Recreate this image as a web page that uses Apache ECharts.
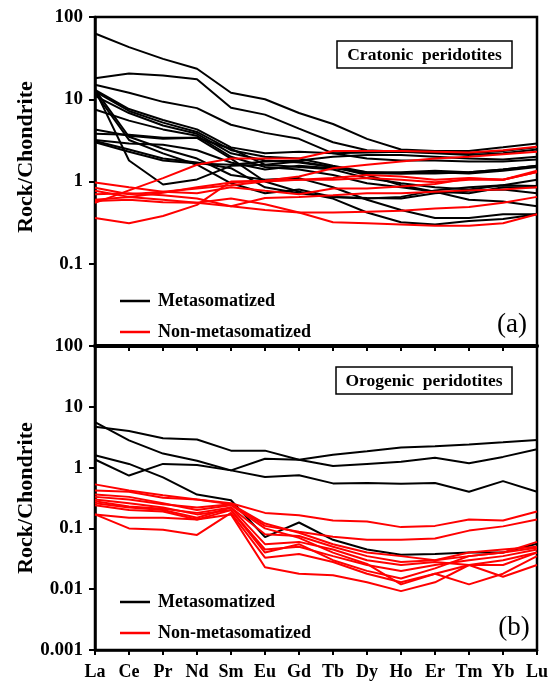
<!DOCTYPE html>
<html><head><meta charset="utf-8">
<script src="https://cdn.jsdelivr.net/npm/echarts@6/dist/echarts.min.js"></script>
<style>html,body{margin:0;padding:0;background:#fff}#c{width:553px;height:684px}</style>
</head><body><div id="c"></div>
<script>
// ---------- DATA ----------
const elements = ['La','Ce','Pr','Nd','Sm','Eu','Gd','Tb','Dy','Ho','Er','Tm','Yb','Lu'];

const yTickValuesTop = [0.1, 1, 10, 100];
const yTickLabelsTop = ['0.1', '1', '10', '100'];
const yTickValuesBottom = [0.001, 0.01, 0.1, 1, 10, 100];
const yTickLabelsBottom = ['0.001', '0.01', '0.1', '1', '10', '100'];

// (a) Cratonic peridotites - metasomatized (black)
const cratonicMeta1  = [63, 43, 31, 23.5, 12, 10, 6.8, 5.0, 3.3, 2.45, 2.35, 2.35, 2.6, 2.9];
const cratonicMeta2  = [18, 20.5, 19.5, 17.5, 7.9, 6.5, 4.4, 3.0, 2.4, 2.3, 2.25, 2.2, 2.35, 2.6];
const cratonicMeta3  = [15, 12, 9.3, 7.8, 4.9, 3.9, 3.3, 2.2, 1.9, 1.8, 1.8, 1.75, 1.75, 1.85];
const cratonicMeta4  = [13, 7.6, 5.6, 4.3, 2.6, 2.2, 2.3, 2.2, 2.25, 2.3, 2.2, 2.1, 2.2, 2.45];
const cratonicMeta5  = [12.5, 7.2, 5.2, 4.0, 2.4, 2.0, 1.9, 1.55, 1.3, 1.3, 1.35, 1.3, 1.4, 1.55];
const cratonicMeta6  = [11, 6.8, 4.8, 3.8, 2.2, 1.8, 1.7, 1.5, 1.2, 0.9, 0.75, 0.6, 0.57, 0.5];
const cratonicMeta7  = [7.5, 5.5, 4.3, 3.6, 2.0, 1.5, 1.4, 1.2, 0.95, 0.85, 0.75, 0.72, 0.85, 0.85];
const cratonicMeta8  = [13, 3.5, 2.5, 1.9, 1.2, 1.05, 1.1, 0.85, 0.6, 0.45, 0.36, 0.36, 0.4, 0.4];
const cratonicMeta9  = [13, 1.8, 0.92, 1.06, 1.55, 1.6, 1.75, 1.5, 1.25, 1.25, 1.3, 1.25, 1.35, 1.5];
const cratonicMeta10 = [4.3, 3.6, 3.3, 3.4, 2.5, 1.6, 1.5, 1.4, 1.1, 0.95, 0.85, 0.8, 0.9, 1.05];
const cratonicMeta11 = [3.8, 3.7, 3.4, 3.4, 1.9, 1.0, 0.75, 0.62, 0.42, 0.32, 0.3, 0.33, 0.35, 0.4];
const cratonicMeta12 = [3.2, 2.9, 2.8, 2.4, 1.7, 1.4, 1.55, 1.45, 1.3, 1.25, 1.25, 1.3, 1.4, 1.55];
const cratonicMeta13 = [3.0, 2.3, 1.8, 1.65, 1.6, 1.75, 1.8, 2.0, 2.1, 2.1, 2.0, 1.9, 1.85, 2.0];
const cratonicMeta14 = [3.1, 2.45, 1.9, 1.7, 1.45, 0.85, 0.72, 0.65, 0.63, 0.62, 0.72, 0.77, 0.8, 0.72];
const cratonicMeta15 = [12, 3.2, 2.2, 1.6, 0.95, 0.72, 0.8, 0.65, 0.62, 0.65, 0.78, 0.85, 0.9, 0.88];

// (a) Cratonic peridotites - non-metasomatized (red)
const cratonicNon1 = [0.55, 0.78, 1.1, 1.6, 1.9, 1.9, 1.9, 2.35, 2.35, 2.35, 2.3, 2.25, 2.4, 2.65];
const cratonicNon2 = [0.6, 0.65, 0.73, 0.85, 0.97, 1.02, 1.15, 1.45, 1.6, 1.75, 1.9, 2.0, 2.15, 2.3];
const cratonicNon3 = [0.97, 0.85, 0.75, 0.82, 0.9, 1.0, 1.05, 1.05, 1.1, 1.05, 0.98, 1.05, 1.05, 1.35];
const cratonicNon4 = [0.36, 0.31, 0.38, 0.52, 1.0, 1.02, 1.05, 1.1, 1.2, 1.15, 1.05, 1.1, 1.05, 1.3];
const cratonicNon5 = [0.84, 0.7, 0.75, 0.72, 0.85, 0.77, 0.7, 0.82, 0.82, 0.87, 0.93, 1.09, 1.05, 1.3];
const cratonicNon6 = [0.77, 0.65, 0.6, 0.55, 0.5, 0.63, 0.65, 0.68, 0.72, 0.72, 0.75, 0.78, 0.8, 0.85];
const cratonicNon7 = [0.7, 0.72, 0.68, 0.62, 0.5, 0.45, 0.42, 0.42, 0.43, 0.44, 0.47, 0.49, 0.55, 0.65];
const cratonicNon8 = [0.58, 0.6, 0.56, 0.55, 0.62, 0.53, 0.42, 0.32, 0.31, 0.3, 0.29, 0.29, 0.31, 0.4];

// (b) Orogenic peridotites - metasomatized (black)
const orogenicMeta1 = [5.6, 2.8, 1.7, 1.3, 0.9, 0.7, 0.75, 0.55, 0.56, 0.54, 0.56, 0.4, 0.6, 0.4];
const orogenicMeta2 = [4.7, 4.0, 3.05, 2.9, 1.9, 1.9, 1.35, 1.06, 1.15, 1.25, 1.45, 1.18, 1.5, 2.0];
const orogenicMeta3 = [1.6, 1.15, 0.69, 0.36, 0.29, 0.072, 0.125, 0.065, 0.045, 0.037, 0.038, 0.04, 0.04, 0.056];
const orogenicMeta4 = [1.36, 0.74, 1.15, 1.1, 0.9, 1.4, 1.35, 1.62, 1.85, 2.15, 2.25, 2.4, 2.6, 2.85];

// (b) Orogenic peridotites - non-metasomatized (red)
const orogenicNon1  = [0.53, 0.42, 0.35, 0.3, 0.26, 0.18, 0.165, 0.135, 0.13, 0.105, 0.11, 0.14, 0.135, 0.19];
const orogenicNon2  = [0.42, 0.4, 0.32, 0.3, 0.25, 0.11, 0.088, 0.073, 0.065, 0.065, 0.068, 0.092, 0.108, 0.14];
const orogenicNon3  = [0.33, 0.3, 0.25, 0.22, 0.25, 0.12, 0.085, 0.055, 0.04, 0.035, 0.03, 0.035, 0.04, 0.06];
const orogenicNon4  = [0.28, 0.23, 0.21, 0.18, 0.22, 0.08, 0.075, 0.05, 0.035, 0.028, 0.03, 0.04, 0.045, 0.05];
const orogenicNon5  = [0.26, 0.22, 0.2, 0.15, 0.22, 0.055, 0.06, 0.045, 0.03, 0.025, 0.028, 0.025, 0.025, 0.04];
const orogenicNon6  = [0.24, 0.2, 0.19, 0.14, 0.2, 0.045, 0.05, 0.035, 0.025, 0.02, 0.025, 0.03, 0.035, 0.045];
const orogenicNon7  = [0.3, 0.26, 0.22, 0.17, 0.2, 0.04, 0.055, 0.03, 0.02, 0.015, 0.022, 0.035, 0.04, 0.048];
const orogenicNon8  = [0.17, 0.1, 0.095, 0.078, 0.18, 0.033, 0.038, 0.028, 0.018, 0.013, 0.018, 0.012, 0.018, 0.035];
const orogenicNon9  = [0.17, 0.15, 0.15, 0.14, 0.17, 0.023, 0.018, 0.017, 0.013, 0.0093, 0.013, 0.025, 0.03, 0.04];
const orogenicNon10 = [0.36, 0.33, 0.26, 0.2, 0.24, 0.1, 0.07, 0.04, 0.026, 0.012, 0.018, 0.025, 0.016, 0.025];

const nameMeta = 'Metasomatized';
const nameNon = 'Non-metasomatized';

// ---------- CHART ----------
const FONT = '"Liberation Serif", "Times New Roman", serif';
const cratonicMetaAll = [cratonicMeta1,cratonicMeta2,cratonicMeta3,cratonicMeta4,cratonicMeta5,cratonicMeta6,cratonicMeta7,cratonicMeta8,cratonicMeta9,cratonicMeta10,cratonicMeta11,cratonicMeta12,cratonicMeta13,cratonicMeta14,cratonicMeta15];
const cratonicNonAll = [cratonicNon1,cratonicNon2,cratonicNon3,cratonicNon4,cratonicNon5,cratonicNon6,cratonicNon7,cratonicNon8];
const orogenicMetaAll = [orogenicMeta1,orogenicMeta2,orogenicMeta3,orogenicMeta4];
const orogenicNonAll = [orogenicNon1,orogenicNon2,orogenicNon3,orogenicNon4,orogenicNon5,orogenicNon6,orogenicNon7,orogenicNon8,orogenicNon9,orogenicNon10];

function mk(data, name, color, idx) {
  return {
    type: 'line', name: name, data: data, xAxisIndex: idx, yAxisIndex: idx,
    symbol: 'none', color: color, silent: true,
    lineStyle: { color: color, width: 2 }, itemStyle: { color: color }
  };
}
const series = [];
cratonicMetaAll.forEach(d => series.push(mk(d, nameMeta, '#000000', 0)));
cratonicNonAll.forEach(d => series.push(mk(d, nameNon, '#ff0000', 0)));
orogenicMetaAll.forEach(d => series.push(mk(d, nameMeta, '#000000', 1)));
orogenicNonAll.forEach(d => series.push(mk(d, nameNon, '#ff0000', 1)));

function labelFor(vals, labels) {
  return function (v) {
    for (let i = 0; i < vals.length; i++) {
      if (Math.abs(Math.log10(v) - Math.log10(vals[i])) < 0.01) return labels[i];
    }
    return '';
  };
}

const lineBlack = { color: '#000', width: 2.5 };

function yAxis(idx, min, max, vals, labels) {
  return {
    type: 'log', logBase: 10, gridIndex: idx, min: min, max: max,
    axisLine: { show: true, lineStyle: lineBlack },
    axisTick: { show: true, inside: false, length: 6, lineStyle: { color: '#000', width: 2 } },
    minorTick: { show: false },
    splitLine: { show: false },
    axisLabel: { margin: 12, formatter: labelFor(vals, labels),
      fontFamily: FONT, fontWeight: 'bold', fontSize: 19, color: '#000' }
  };
}
function xAxis(idx, showLabel, lw) {
  return {
    type: 'category', gridIndex: idx, data: elements, boundaryGap: false,
    axisLine: { show: true, lineStyle: { color: '#000', width: lw } },
    axisTick: { show: true, inside: false, length: 5, alignWithLabel: true, lineStyle: { color: '#000', width: 2 } },
    splitLine: { show: false },
    axisLabel: { show: showLabel, margin: 13, interval: 0,
      fontFamily: FONT, fontWeight: 'bold', fontSize: 18, color: '#000' }
  };
}

const legendCommon = {
  data: [nameMeta, nameNon], orient: 'vertical', left: 115, icon: 'rect',
  itemWidth: 30, itemHeight: 2.5, itemGap: 13, selectedMode: false,
  textStyle: { fontFamily: FONT, fontWeight: 'bold', fontSize: 18, color: '#000', padding: [0, 0, 0, 3] }
};

const boxText = (x, y, w, h, txt) => ({
  type: 'group', children: [
    { type: 'rect', shape: { x: x, y: y, width: w, height: h },
      style: { fill: '#fff', stroke: '#000', lineWidth: 1.5 }, z: 10 },
    { type: 'text', x: x + w / 2, y: y + h / 2 + 1, z: 11,
      style: { text: txt, fontFamily: FONT, fontWeight: 'bold', fontSize: 17.5, fill: '#000',
               align: 'center', verticalAlign: 'middle', textAlign: 'center', textVerticalAlign: 'middle' } }
  ]
});
const vText = (x, y, txt) => ({
  type: 'text', x: x, y: y, rotation: Math.PI / 2, z: 10,
  style: { text: txt, fontFamily: FONT, fontWeight: 'bold', fontSize: 22, fill: '#000',
           align: 'center', verticalAlign: 'middle', textAlign: 'center', textVerticalAlign: 'middle' }
});
const panelTag = (x, y, txt) => ({
  type: 'text', x: x, y: y, z: 10,
  style: { text: txt, fontFamily: FONT, fontWeight: 'normal', fontSize: 27, fill: '#000',
           align: 'center', verticalAlign: 'middle', textAlign: 'center', textVerticalAlign: 'middle' }
});

const option = {
  animation: false,
  backgroundColor: '#fff',
  grid: [
    { left: 95, top: 17, width: 442, height: 329, show: true, borderColor: '#000', borderWidth: 2.5, backgroundColor: 'transparent' },
    { left: 95, top: 346, width: 442, height: 304, show: true, borderColor: '#000', borderWidth: 2.5, backgroundColor: 'transparent' }
  ],
  xAxis: [xAxis(0, false, 4), xAxis(1, true, 2.5)],
  yAxis: [
    yAxis(0, 0.01, 100, yTickValuesTop, yTickLabelsTop),
    yAxis(1, 0.001, 100, yTickValuesBottom, yTickLabelsBottom)
  ],
  legend: [
    Object.assign({ top: 287 }, legendCommon),
    Object.assign({ top: 588 }, legendCommon)
  ],
  graphic: [
    vText(26, 157, 'Rock/Chondrite'),
    vText(26, 498, 'Rock/Chondrite'),
    boxText(337, 41, 175, 27, 'Cratonic  peridotites'),
    boxText(336, 367, 176, 27, 'Orogenic  peridotites'),
    panelTag(512, 325, '(a)'),
    panelTag(514, 628, '(b)')
  ],
  series: series
};

const chart = echarts.init(document.getElementById('c'), null, { renderer: 'canvas' });
chart.setOption(option);
</script>
</body></html>
